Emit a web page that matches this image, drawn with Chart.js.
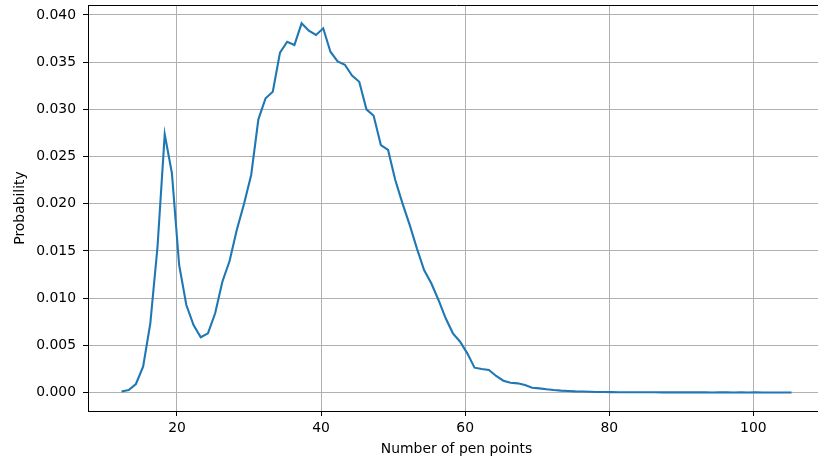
<!DOCTYPE html>
<html>
<head>
<meta charset="utf-8">
<script src="https://cdn.jsdelivr.net/npm/chart.js@4"></script>
<style>
  html, body { margin: 0; padding: 0; background: #fff; overflow: hidden; }
  #wrap { width: 828px; height: 463px; }
</style>
</head>
<body>
<div id="wrap"><canvas id="penChart" width="828" height="463"></canvas></div>
<script>
// Number of pen points (x positions of the curve)
const penPoints = [
  12.3, 13.3, 14.3, 15.3, 16.3, 17.3, 18.3, 19.3, 20.3, 21.3,
  22.3, 23.3, 24.3, 25.3, 26.3, 27.3, 28.3, 29.3, 30.3, 31.3,
  32.3, 33.3, 34.3, 35.3, 36.3, 37.3, 38.3, 39.3, 40.3, 41.3,
  42.3, 43.3, 44.3, 45.3, 46.3, 47.3, 48.3, 49.3, 50.3, 51.3,
  52.3, 53.3, 54.3, 55.3, 56.3, 57.3, 58.3, 59.3, 60.3, 61.3,
  62.3, 63.3, 64.3, 65.3, 66.3, 67.3, 68.3, 69.3, 70.3, 71.3,
  72.3, 73.3, 74.3, 75.3, 76.3, 77.3, 78.3, 79.3, 80.3, 81.3,
  82.3, 83.3, 84.3, 85.3, 86.3, 87.3, 88.3, 89.3, 90.3, 91.3,
  92.3, 93.3, 94.3, 95.3, 96.3, 97.3, 98.3, 99.3, 100.3, 101.3,
  102.3, 103.3, 104.3, 105.3
];

// Probability
const probability = [
  0.0001, 0.00026, 0.0009, 0.00273, 0.00733, 0.01544, 0.02735, 0.02322, 0.01351, 0.00927,
  0.00715, 0.00585, 0.00627, 0.00839, 0.01174, 0.01393, 0.01721, 0.01997, 0.02304, 0.02894,
  0.03117, 0.03186, 0.03600, 0.03716, 0.03681, 0.03911, 0.03833, 0.03787, 0.03858, 0.03610,
  0.03508, 0.03472, 0.03358, 0.03292, 0.03000, 0.02932, 0.02622, 0.02569, 0.02251, 0.02004,
  0.01775, 0.01527, 0.01298, 0.01157, 0.00980, 0.00786, 0.00627, 0.00538, 0.00415, 0.00263,
  0.00249, 0.00238, 0.00175, 0.00125, 0.00104, 0.00097, 0.00079, 0.00051, 0.00044, 0.00034,
  0.00026, 0.0002, 0.00016, 0.00012, 0.0001, 0.00008, 0.00006, 0.00005, 0.00004, 0.00002,
  0.00002, 0.00003, 0.00002, 0.00003, 0.00002, 0.00001, 0.00002, 0.00001, 0.00002, 0.00001,
  0.00001, 0.00001, 0.0, 0.00001, 0.00001, 0.0, 0.00001, 0.0, 0.00001, 0.0,
  0.0, 0.0, 0.0, 0.0
];

const xTicks = [20, 40, 60, 80, 100];
const yTicks = [0, 0.005, 0.010, 0.015, 0.020, 0.025, 0.030, 0.035, 0.040];

const font = { family: 'DejaVu Sans', size: 13.9 };
const gridColor = '#b0b0b0';

// top spine like matplotlib (right one falls outside the window)
const framePlugin = {
  id: 'frame',
  afterDraw(chart) {
    const { ctx, chartArea: a } = chart;
    ctx.save();
    ctx.strokeStyle = '#000';
    ctx.lineWidth = 1;
    ctx.beginPath();
    ctx.moveTo(a.left, a.top + 0.5);
    ctx.lineTo(a.right, a.top + 0.5);
    ctx.stroke();
    ctx.restore();
  }
};

Chart.defaults.color = '#000';
Chart.defaults.font.family = 'DejaVu Sans';

new Chart(document.getElementById('penChart'), {
  type: 'line',
  data: {
    datasets: [{
      data: penPoints.map((x, i) => ({ x: x, y: probability[i] })),
      borderColor: '#1f77b4',
      borderWidth: 2.1,
      pointRadius: 0,
      tension: 0,
      fill: false
    }]
  },
  options: {
    responsive: false,
    devicePixelRatio: 1,
    animation: false,
    layout: { padding: { top: 5, right: 3, left: 0, bottom: 0 } },
    plugins: { legend: { display: false }, tooltip: { enabled: false } },
    scales: {
      x: {
        type: 'linear',
        min: 7.65,
        max: 109.95,
        afterBuildTicks: s => { s.ticks = xTicks.map(v => ({ value: v })); },
        afterFit: s => { s.height = 52; s.paddingLeft = 0; s.paddingRight = 0; },
        grid: { color: gridColor, lineWidth: 1, tickLength: 5, tickColor: '#000' },
        border: { display: true, color: '#000', width: 1 },
        ticks: { font: font, padding: 4, maxRotation: 0, autoSkip: false },
        title: {
          display: true,
          text: 'Number of pen points',
          font: font,
          padding: { top: 0, bottom: 5.7 }
        }
      },
      y: {
        min: -0.00196,
        max: 0.04105,
        afterBuildTicks: s => { s.ticks = yTicks.map(v => ({ value: v })); },
        afterFit: s => { s.width = 88; s.paddingTop = 0; s.paddingBottom = 0; },
        grid: { color: gridColor, lineWidth: 1, tickLength: 5, tickColor: '#000' },
        border: { display: true, color: '#000', width: 1 },
        ticks: {
          font: font,
          padding: 7,
          autoSkip: false,
          callback: v => v.toFixed(3)
        },
        title: {
          display: true,
          text: 'Probability',
          font: font,
          padding: { top: 11.7, bottom: 0 }
        }
      }
    }
  },
  plugins: [framePlugin]
});
</script>
</body>
</html>
